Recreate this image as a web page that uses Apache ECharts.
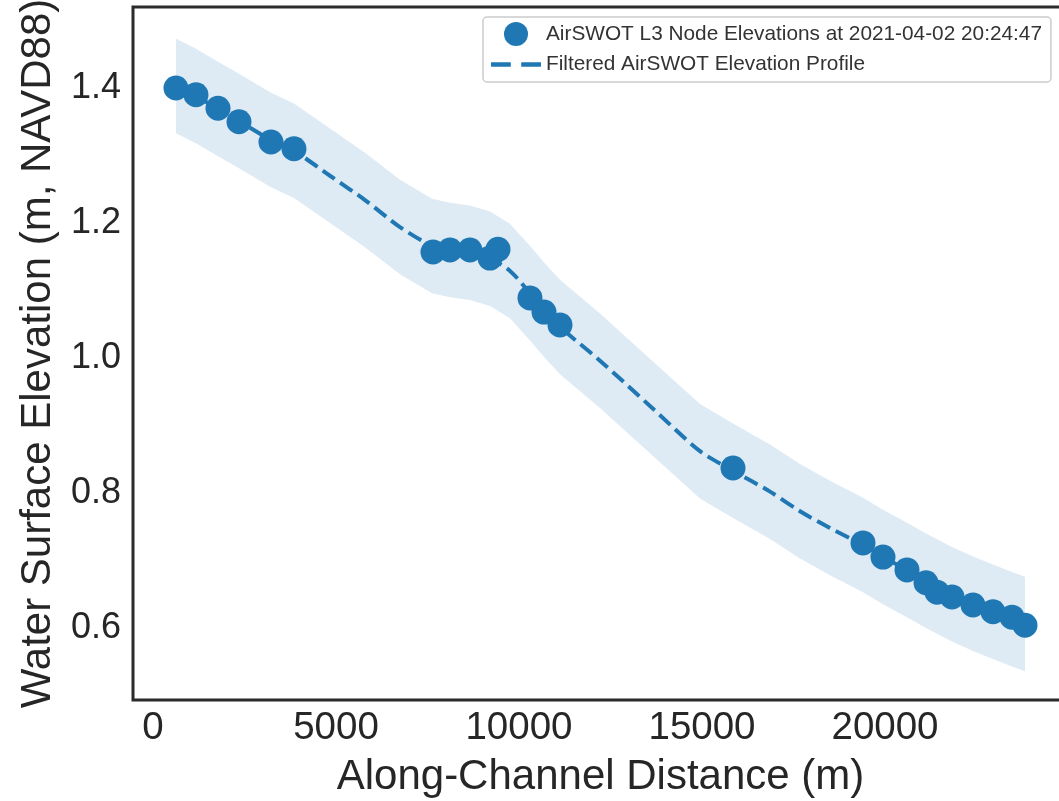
<!DOCTYPE html>
<html>
<head>
  <meta charset="utf-8">
  <title>AirSWOT elevation profile</title>
  <script src="https://cdn.jsdelivr.net/npm/echarts@6.0.0/dist/echarts.min.js"></script>
  <style>
    html, body { margin: 0; padding: 0; background: #fff; }
    #main { width: 1059px; height: 801px; }
  </style>
</head>
<body>
  <div id="main"></div>
  <script>
    // node elevations (m along channel, m NAVD88)
    const nodeX = [628, 1175, 1776, 2350, 3224, 3852, 7650, 8115, 8661, 9208, 9426, 10300, 10683, 11120,
                   15847, 19399, 19945, 20601, 21120, 21421, 21831, 22404, 22951, 23470, 23825];
    const nodeY = [1.40, 1.39, 1.37, 1.35, 1.32, 1.31, 1.157, 1.16, 1.16, 1.148, 1.161, 1.089, 1.068, 1.049,
                   0.837, 0.726, 0.705, 0.686, 0.667, 0.653, 0.646, 0.634, 0.624, 0.616, 0.604];

    // filtered profile
    const profileX = [628, 1175, 1776, 2350, 3224, 3852, 4836, 5792, 6749, 7623, 8115, 8661, 9208, 9754,
                      10301, 10710, 11120, 12213, 13579, 14945, 15847, 16858, 17678, 18497, 19399, 19945,
                      20601, 21120, 21831, 22404, 22951, 23470, 23825];
    const profileY = [1.403, 1.388, 1.369, 1.351, 1.323, 1.307, 1.270, 1.234, 1.194, 1.166, 1.160, 1.156, 1.147, 1.129,
                      1.096, 1.070, 1.046, 0.996, 0.929, 0.862, 0.833, 0.802, 0.773, 0.748, 0.723, 0.705,
                      0.686, 0.670, 0.650, 0.636, 0.624, 0.613, 0.606];
    // shaded band edges
    const bandUpper = [1.473, 1.458, 1.439, 1.421, 1.393, 1.377, 1.340, 1.304, 1.264, 1.236, 1.230, 1.226, 1.217, 1.199,
                       1.166, 1.140, 1.116, 1.066, 0.999, 0.932, 0.903, 0.872, 0.843, 0.818, 0.793, 0.775,
                       0.756, 0.740, 0.720, 0.706, 0.694, 0.683, 0.676];
    const bandLower = [1.333, 1.318, 1.299, 1.281, 1.253, 1.237, 1.200, 1.164, 1.124, 1.096, 1.090, 1.086, 1.077, 1.059,
                       1.026, 1.000, 0.976, 0.926, 0.859, 0.792, 0.763, 0.732, 0.703, 0.678, 0.653, 0.635,
                       0.616, 0.600, 0.580, 0.566, 0.554, 0.543, 0.536];

    const xTicks = [0, 5000, 10000, 15000, 20000];
    const yTicks = [0.6, 0.8, 1.0, 1.2, 1.4];

    const nodeName = 'AirSWOT L3 Node Elevations at 2021-04-02 20:24:47';
    const profileName = 'Filtered AirSWOT Elevation Profile';

    const FONT = '"Liberation Sans", Arial, sans-serif';
    const BLUE = '#1f77b4';

    const chart = echarts.init(document.getElementById('main'), null, { renderer: 'canvas' });

    const option = {
      animation: false,
      backgroundColor: '#fff',
      textStyle: { fontFamily: FONT },
      grid: {
        left: 133, top: 7, width: 935, height: 693,
        outerBoundsMode: 'none',
        containLabel: false,
        show: true, borderColor: '#2b2b2b', borderWidth: 3, backgroundColor: 'transparent'
      },
      legend: {
        orient: 'vertical',
        left: 483, top: 17,
        padding: [5, 9, 7, 8],
        itemGap: 8,
        itemWidth: 50, itemHeight: 24,
        borderColor: '#cccccc', borderWidth: 1.5, borderRadius: 4,
        backgroundColor: '#fff',
        textStyle: { fontSize: 20.8, color: '#333', fontFamily: FONT },
        data: [
          { name: nodeName, icon: 'circle' },
          { name: profileName, icon: 'path://M0,0h17v4h-17z M26,0h17v4h-17z' }
        ]
      },
      xAxis: {
        type: 'value',
        min: -546, max: 25000,
        splitLine: { show: false },
        axisLine: { show: false },
        axisTick: { show: false },
        axisLabel: {
          customValues: xTicks,
          formatter: v => String(v),
          fontSize: 38.5, color: '#262626', margin: 9, fontFamily: FONT
        },
        name: 'Along-Channel Distance (m)',
        nameLocation: 'middle',
        nameGap: 56,
        nameTextStyle: { fontSize: 42, color: '#262626', fontFamily: FONT }
      },
      yAxis: {
        type: 'value',
        min: 0.4933, max: 1.52,
        splitLine: { show: false },
        axisLine: { show: false },
        axisTick: { show: false },
        axisLabel: {
          customValues: yTicks,
          formatter: v => v.toFixed(1),
          fontSize: 36, color: '#262626', margin: 12, fontFamily: FONT
        },
        name: 'Water Surface Elevation (m, NAVD88)',
        nameLocation: 'middle',
        nameGap: 74,
        nameTextStyle: { fontSize: 42, color: '#262626', fontFamily: FONT }
      },
      series: [
        {
          name: 'band',
          type: 'custom',
          z: 1,
          silent: true,
          data: [0],
          renderItem: function (params, api) {
            const pts = [];
            for (let i = 0; i < profileX.length; i++) pts.push(api.coord([profileX[i], bandUpper[i]]));
            for (let i = profileX.length - 1; i >= 0; i--) pts.push(api.coord([profileX[i], bandLower[i]]));
            return {
              type: 'polygon',
              shape: { points: pts },
              style: { fill: 'rgba(31,119,180,0.15)', stroke: 'none' }
            };
          }
        },
        {
          name: profileName,
          type: 'line',
          z: 2,
          symbol: 'none',
          smooth: 0.3,
          lineStyle: { color: BLUE, width: 4, type: [14.8, 6.4], cap: 'butt' },
          itemStyle: { color: BLUE },
          data: profileX.map((x, i) => [x, profileY[i]])
        },
        {
          name: nodeName,
          type: 'scatter',
          z: 3,
          symbol: 'circle',
          symbolSize: 25,
          itemStyle: { color: BLUE, opacity: 1 },
          data: nodeX.map((x, i) => [x, nodeY[i]])
        }
      ]
    };

    chart.setOption(option);
    window.addEventListener('resize', () => chart.resize());
  </script>
</body>
</html>
